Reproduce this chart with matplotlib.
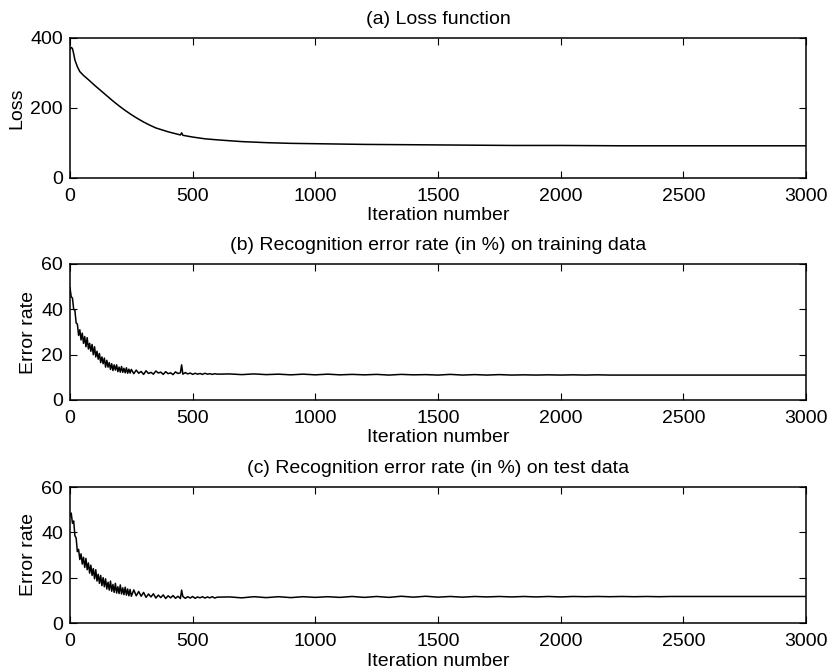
import matplotlib
matplotlib.use("Agg")
import matplotlib.pyplot as plt

plt.rcParams['font.family'] = ['Liberation Sans', 'DejaVu Sans']

# (a) loss curve
loss_iter = [0, 5, 10, 15, 20, 30, 40, 55, 75, 100, 125, 150, 175, 200, 225, 250,
             275, 300, 325, 350, 400, 450, 455, 460, 500, 550, 600, 700, 800, 900,
             1000, 1200, 1400, 1600, 1800, 2000, 2250, 2500, 2750, 3000]
loss_val = [368, 373, 370, 355, 337, 318, 304, 293, 281, 265, 250, 235, 220, 206, 193, 181,
            170, 160, 151, 143, 132, 123, 129, 122, 117, 112, 109, 104, 101, 99,
            98, 96, 95, 94, 93, 93, 92, 92, 92, 92]

err_iter = (list(range(0, 255, 5)) + list(range(260, 455, 10)) + [455]
            + list(range(460, 605, 10)) + list(range(650, 3050, 50)))

# (b) training error
train_err = [
    # 0 - 250
    49.5, 45.5, 45, 40, 39.5, 34, 33.5, 28.5, 31, 26.5,
    29.5, 25, 28, 23.5, 27.5, 22.5, 25, 21.5, 24.5, 20,
    23.5, 19, 21.5, 18, 20.5, 16.5, 19, 16, 18.5, 14.5,
    17.5, 14.5, 16.5, 13.5, 16, 13, 15.5, 13.2, 15.5, 12.5,
    14.5, 12.3, 14.8, 12.2, 14, 12, 14.2, 11.8, 13.6, 11.9,
    13.5,
    # 260 - 600
    11.6, 13.2, 11.8, 12.6, 11.3, 12.9, 11.7, 12.2, 11.4, 12.8,
    11.9, 12.3, 11.3, 12.5, 11.6, 12.0, 11.2, 12.4, 11.7, 12.0,
    15.5,
    11.4, 12.1, 11.5, 11.9, 11.3, 11.8, 11.4, 11.7, 11.3, 11.8,
    11.4, 11.6, 11.3, 11.6, 11.4,
    # 650 - 3000
    11.5, 11.2, 11.5, 11.2, 11.4, 11.1, 11.4, 11.1,
    11.4, 11.1, 11.3, 11.1, 11.3, 11.0, 11.3, 11.1,
    11.2, 11.0, 11.3, 11.0, 11.2, 11.0, 11.2, 11.0,
    11.1, 11.0, 11.1, 11.0, 11.1, 11.0, 11.1, 11.0,
    11.0, 11.0, 11.0, 11.0, 11.0, 11.0, 11.0, 11.0,
    11.0, 11.0, 11.0, 11.0, 11.0, 11.0, 11.0, 11.0]

# (c) test error
test_err = [
    # 0 - 250
    47.5, 48.5, 44, 45, 38.5, 37.5, 31.5, 32.5, 28, 30.5,
    26, 29, 24.5, 28.5, 23.5, 26.5, 22, 25.5, 21, 24,
    19.5, 23.5, 18.5, 21.5, 17.5, 21, 16.5, 20, 16, 19.5,
    15, 18, 14.5, 18.5, 14, 17, 13.5, 17.5, 13.2, 16,
    13, 16.8, 12.8, 15.5, 12.5, 15.8, 12.3, 15, 12, 14.8,
    11.8,
    # 260 - 600
    14.6, 12.0, 13.9, 11.8, 13.5, 11.3, 12.8, 11.5, 12.9, 11.0,
    12.3, 11.2, 12.4, 10.8, 12.0, 11.1, 12.1, 10.9, 11.8, 10.8,
    14.5,
    11.7, 10.9, 11.6, 11.0, 11.7, 10.9, 11.5, 11.1, 11.6, 11.0,
    11.5, 11.1, 11.6, 11.0, 11.4,
    # 650 - 3000
    11.5, 11.1, 11.6, 11.2, 11.6, 11.2, 11.6, 11.3,
    11.6, 11.3, 11.7, 11.3, 11.7, 11.3, 11.8, 11.4,
    11.8, 11.4, 11.7, 11.4, 11.7, 11.5, 11.7, 11.5,
    11.7, 11.5, 11.7, 11.5, 11.7, 11.6, 11.7, 11.6,
    11.7, 11.6, 11.7, 11.6, 11.7, 11.7, 11.7, 11.7,
    11.7, 11.7, 11.7, 11.7, 11.7, 11.7, 11.7, 11.7]

titles = ["(a) Loss function",
          "(b) Recognition error rate (in %) on training data",
          "(c) Recognition error rate (in %) on test data"]
ylabels = ["Loss", "Error rate", "Error rate"]
xticks = [0, 500, 1000, 1500, 2000, 2500, 3000]

W, H = 829, 671
fig = plt.figure(figsize=(W / 100, H / 100), dpi=100)

# axes boxes in pixels: left, top, right, bottom
boxes = [(70, 38, 806, 178), (70, 264, 806, 400), (70, 487, 806, 623)]
series = [(loss_iter, loss_val, [0, 400], [0, 200, 400]),
          (err_iter, train_err, [0, 60], [0, 20, 40, 60]),
          (err_iter, test_err, [0, 60], [0, 20, 40, 60])]
ylab_x = [-0.061, -0.045, -0.045]

for i, (box, (x, y, ylim, yt)) in enumerate(zip(boxes, series)):
    l, t, r, b = box
    ax = fig.add_axes([l / W, 1 - b / H, (r - l) / W, (b - t) / H])
    ax.plot(x, y, color='black', linewidth=1.1)
    ax.set_xlim(0, 3000)
    ax.set_ylim(*ylim)
    ax.set_xticks(xticks)
    ax.set_yticks(yt)
    ax.tick_params(direction='in', top=True, right=True, length=5, width=0.8,
                   labelsize=14, colors='black')
    ax.tick_params(axis='x', pad=7)
    ax.tick_params(axis='y', pad=5)
    for s in ax.spines.values():
        s.set_linewidth(1.1)
    ax.set_title(titles[i], fontsize=14, pad=10)
    ax.set_xlabel("Iteration number", fontsize=14, labelpad=2)
    ax.set_ylabel(ylabels[i], fontsize=14)
    ax.yaxis.set_label_coords(ylab_x[i], 0.5)

fig.savefig("out.png", dpi=100)
